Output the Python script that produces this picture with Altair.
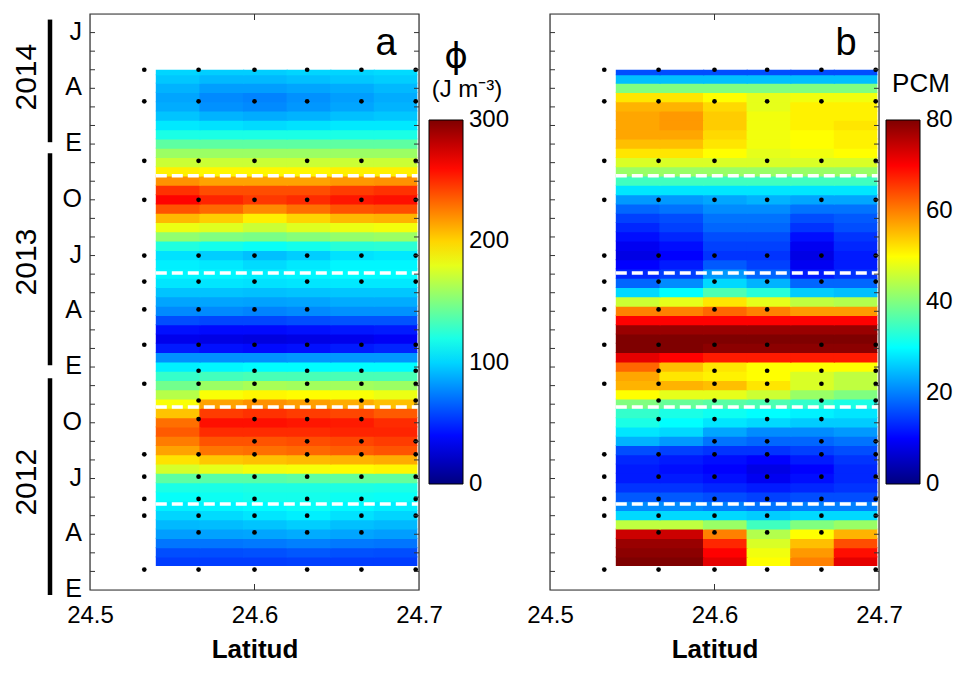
import altair as alt
import pandas as pd

FONT = "Liberation Sans, Arial, Helvetica, sans-serif"

# ---------------- axis / label data ----------------
month_tick_pos = list(range(1, 31))                     # months since Jan-2012
month_label_pos = [0, 3, 6, 9, 12, 15, 18, 21, 24, 27, 30]
month_labels = ["E", "A", "J", "O", "E", "A", "J", "O", "E", "A", "J"]
year_labels = ["2012", "2013", "2014"]
year_center = [5.8, 17.65, 27.6]
year_bar_lo = [-0.27, 12.1, 24.1]
year_bar_hi = [11.4, 23.5, 30.7]
lon_ticks = [24.5, 24.6, 24.7]

# sampling stations (black dots)
dot_lons = [24.533, 24.566, 24.600, 24.632, 24.665, 24.698]
dot_months = [28.0, 26.3, 23.1, 21.0, 18.0, 16.6, 15.1, 13.2, 11.8, 11.1,
              10.2, 9.2, 8.0, 7.3, 6.1, 4.9, 4.0, 3.1, 1.1]
dot_masks = ["111111", "111111", "111111", "111111", "111111", "111111", "111100",
             "111111", "011111", "111111", "011111", "011110", "001111", "111111",
             "111111", "111111", "111111", "011110", "111111"]

# white dashed lines
dash_months = [4.63, 9.85, 17.06, 22.3]

# ---------------- heat map data ----------------
heat_lon_edges = [24.54, 24.5665, 24.593, 24.6195, 24.646, 24.6725, 24.699]
heat_bottom, heat_top = 1.29, 28.0
heat_months = [1.5, 2.0, 2.5, 3.0, 3.5, 4.0, 4.5, 5.0, 5.5, 6.0, 6.5, 7.0, 7.5, 8.0,
               8.5, 9.0, 9.5, 10.0, 10.5, 11.0, 11.5, 12.0, 12.5, 13.0, 13.5, 14.0,
               14.5, 15.0, 15.5, 16.0, 16.5, 17.0, 17.5, 18.0, 18.5, 19.0, 19.5,
               20.0, 20.5, 21.0, 21.5, 22.0, 22.5, 23.0, 23.5, 24.0, 24.5, 25.0,
               25.5, 26.0, 26.5, 27.0, 27.5, 27.9]

phi_rows = [
    [55, 55, 55, 56, 55, 55], [60, 60, 61, 63, 61, 60], [72, 72, 73, 75, 73, 72],
    [84, 85, 86, 88, 86, 84], [92, 93, 95, 98, 94, 92], [100, 102, 105, 108, 104, 100],
    [108, 110, 112, 115, 111, 108], [114, 116, 118, 118, 116, 115], [120, 120, 121, 121, 121, 120],
    [140, 138, 138, 140, 142, 142], [175, 180, 184, 185, 188, 190], [196, 204, 206, 208, 210, 212],
    [215, 228, 230, 232, 235, 238], [226, 238, 238, 240, 242, 245], [236, 250, 250, 250, 252, 252],
    [230, 258, 258, 256, 255, 250], [205, 245, 248, 245, 242, 236], [186, 215, 220, 216, 212, 206],
    [166, 186, 190, 188, 186, 182], [146, 158, 162, 160, 160, 158], [128, 132, 134, 134, 134, 134],
    [108, 110, 112, 112, 112, 112], [80, 80, 80, 82, 82, 82], [45, 42, 40, 42, 45, 48],
    [32, 30, 28, 30, 32, 35], [42, 40, 40, 42, 44, 45], [60, 58, 58, 60, 62, 62],
    [78, 78, 76, 78, 80, 80], [86, 86, 85, 86, 88, 88], [95, 95, 94, 95, 96, 96],
    [105, 105, 104, 105, 106, 106], [110, 110, 108, 110, 112, 112], [108, 106, 102, 106, 110, 110],
    [104, 98, 94, 98, 104, 106], [122, 118, 115, 118, 124, 125], [155, 150, 148, 152, 156, 158],
    [182, 178, 172, 178, 182, 184], [208, 202, 192, 200, 208, 210], [238, 232, 222, 230, 238, 240],
    [262, 252, 246, 250, 256, 258], [248, 240, 240, 240, 245, 248], [220, 215, 215, 215, 218, 220],
    [192, 190, 190, 190, 192, 192], [172, 172, 172, 172, 172, 172], [158, 158, 158, 158, 158, 158],
    [140, 140, 140, 140, 140, 140], [120, 120, 120, 120, 120, 120], [106, 104, 102, 104, 106, 106],
    [95, 90, 88, 90, 94, 96], [88, 80, 78, 82, 86, 90], [86, 78, 76, 80, 84, 88],
    [90, 84, 84, 86, 88, 92], [96, 92, 92, 94, 96, 98], [100, 98, 98, 100, 100, 102],
]

pcm_rows = [
    [80, 80, 72, 50, 60, 72], [79, 79, 70, 49, 58, 69], [78, 78, 67, 47, 55, 64],
    [74, 74, 60, 44, 50, 56], [45, 45, 42, 35, 40, 42], [27, 27, 27, 26, 27, 27],
    [21, 21, 20, 19, 20, 20], [17, 17, 16, 15, 16, 16], [14, 14, 13, 12, 13, 14],
    [12, 12, 11, 9, 11, 13], [12, 11, 10, 8, 10, 13], [13, 12, 11, 10, 12, 14],
    [16, 15, 14, 14, 15, 16], [24, 22, 19, 18, 18, 19], [28, 27, 23, 21, 21, 22],
    [32, 30, 28, 27, 26, 26], [34, 32, 31, 30, 29, 28], [40, 38, 37, 36, 34, 32],
    [50, 48, 48, 46, 42, 40], [56, 56, 55, 52, 47, 45], [57, 52, 51, 50, 47, 45],
    [62, 55, 52, 50, 50, 50], [72, 70, 68, 68, 68, 68], [80, 80, 79, 79, 79, 79],
    [80, 80, 80, 80, 80, 80], [78, 78, 78, 78, 78, 78], [70, 70, 70, 70, 70, 70],
    [60, 60, 62, 60, 58, 58], [46, 48, 52, 48, 45, 44], [27, 30, 36, 33, 26, 25],
    [18, 21, 27, 24, 18, 18], [13, 15, 22, 18, 12, 14], [10, 12, 17, 15, 9, 12],
    [8, 10, 14, 14, 8, 12], [9, 11, 15, 15, 9, 13], [11, 13, 16, 16, 11, 14],
    [13, 15, 18, 18, 14, 16], [15, 16, 19, 19, 16, 17], [18, 19, 21, 21, 19, 19],
    [22, 22, 23, 24, 23, 23], [28, 28, 28, 28, 28, 28], [35, 35, 35, 35, 35, 35],
    [42, 42, 42, 42, 42, 42], [47, 47, 47, 47, 47, 47], [52, 52, 50, 48, 49, 50],
    [55, 55, 52, 49, 50, 51], [57, 57, 53, 49, 50, 51], [57, 58, 54, 49, 51, 52],
    [57, 58, 54, 49, 51, 51], [56, 56, 53, 48, 51, 51], [52, 52, 50, 48, 49, 49],
    [40, 40, 40, 40, 40, 40], [25, 25, 25, 25, 25, 25], [16, 16, 16, 16, 16, 16],
]

JET = ["#00007F", "#0000FF", "#00FFFF", "#FFFF00", "#FF0000", "#7F0000"]
phi_domain = [0, 37.5, 112.5, 187.5, 262.5, 300]
pcm_domain = [0, 10, 30, 50, 70, 80]
phi_ticks = [0, 100, 200, 300]
pcm_ticks = [0, 20, 40, 60, 80]

# ---------------- layout constants ----------------
W, H = 329, 576
X0, X1 = 24.5, 24.7
CB_TOP, CB_LEN, CB_THICK = 106, 364, 34


def heat_frame(rows):
    recs = []
    n = len(heat_months)
    for i, m in enumerate(heat_months):
        lo = heat_bottom if i == 0 else (heat_months[i - 1] + m) / 2
        hi = heat_top if i == n - 1 else (m + heat_months[i + 1]) / 2 + 0.06
        for j in range(6):
            x0 = heat_lon_edges[j]
            x1 = heat_lon_edges[j + 1] + (0.0008 if j < 5 else 0)
            recs.append({"x0": x0, "x1": x1, "y0": lo, "y1": hi, "v": rows[i][j]})
    return pd.DataFrame(recs)


dots_df = pd.DataFrame([
    {"lon": dot_lons[j], "m": m}
    for m, mask in zip(dot_months, dot_masks)
    for j, c in enumerate(mask) if c == "1"
])
dash_df = pd.DataFrame({"m": dash_months, "x0": [heat_lon_edges[0]] * len(dash_months),
                        "x1": [X1] * len(dash_months)})
ticks_df = pd.DataFrame({"m": month_tick_pos})
mlab_df = pd.DataFrame({"m": month_label_pos, "lab": month_labels})
year_df = pd.DataFrame({"yc": year_center, "lab": year_labels, "lo": year_bar_lo, "hi": year_bar_hi})
xtick_df = pd.DataFrame({"lon": [24.6]})
one_df = pd.DataFrame({"k": [0]})

xs = alt.Scale(domain=[X0, X1], nice=False, zero=False)
ys = alt.Scale(domain=[0, 31], nice=False, zero=False)
x_axis = alt.Axis(values=lon_ticks, format=".1f", labelFontSize=24, labelFont=FONT,
                  labelColor="black", tickSize=0, domain=False, grid=False,
                  labelPadding=13, labelFlush=False, title="Latitud", titleFontSize=26,
                  titleFont=FONT, titleFontWeight="bold", titleColor="black", titlePadding=9)


def X(field):
    return alt.X(field, type="quantitative", scale=xs, axis=x_axis, title="Latitud")


def Y(field):
    return alt.Y(field, type="quantitative", scale=ys, axis=None)


def panel(rows, cdomain, cticks, legend_x, letter, extra):
    heat = alt.Chart(heat_frame(rows)).mark_rect(strokeWidth=0).encode(
        x=X("x0"), x2="x1", y=Y("y0"), y2="y1",
        color=alt.Color("v:Q",
                        scale=alt.Scale(domain=cdomain, range=JET, interpolate="rgb"),
                        legend=alt.Legend(title=None, orient="none", legendX=legend_x, legendY=CB_TOP,
                                          direction="vertical", gradientLength=CB_LEN,
                                          gradientThickness=CB_THICK, gradientStrokeColor="black",
                                          gradientStrokeWidth=1, labelFontSize=24, labelFont=FONT,
                                          labelExpr="''", values=cticks, labelOffset=6,
                                          labelOverlap=False, padding=0)),
    )
    # colour-bar tick labels, centred on their value
    vmax = cdomain[-1]
    cb_lab = pd.DataFrame({"lab": [str(v) for v in cticks],
                           "py": [CB_TOP + (1 - v / vmax) * CB_LEN for v in cticks]})
    cb_text = alt.Chart(cb_lab).mark_text(fontSize=24, font=FONT, align="left", baseline="middle",
                                          color="black").encode(
        x=alt.value(legend_x + CB_THICK + 6), y=alt.Y("py:Q", scale=None, axis=None), text="lab:N")
    dashes = alt.Chart(dash_df).mark_rule(color="white", strokeWidth=3.5, strokeDash=[11, 5]).encode(
        x=X("x0"), x2="x1", y=Y("m"))
    dots = alt.Chart(dots_df).mark_circle(size=22, color="black", opacity=1).encode(
        x=X("lon"), y=Y("m"))
    frame = alt.Chart(one_df).mark_rect(filled=False, stroke="#333", strokeWidth=1.2).encode(
        x=alt.value(0), x2=alt.value(W), y=alt.value(0), y2=alt.value(H))
    lt = alt.Chart(ticks_df).mark_rule(color="#333", strokeWidth=1).encode(
        x=alt.value(0), x2=alt.value(5), y=Y("m"))
    rt = alt.Chart(ticks_df).mark_rule(color="#333", strokeWidth=1).encode(
        x=alt.value(W - 5), x2=alt.value(W), y=Y("m"))
    bt = alt.Chart(xtick_df).mark_rule(color="#333", strokeWidth=1).encode(
        x=X("lon"), y=alt.value(H), y2=alt.value(H - 6))
    tt = alt.Chart(xtick_df).mark_rule(color="#333", strokeWidth=1).encode(
        x=X("lon"), y=alt.value(0), y2=alt.value(6))
    let = alt.Chart(pd.DataFrame({"t": [letter]})).mark_text(
        fontSize=38, font=FONT, align="center", baseline="alphabetic", color="black").encode(
        x=alt.value(296), y=alt.value(41), text="t:N")
    layers = [heat, dashes, dots, frame, lt, rt, bt, tt, let, cb_text] + extra
    return alt.layer(*layers).properties(width=W, height=H)


mlabels = alt.Chart(mlab_df).mark_text(fontSize=25, font=FONT, align="right", baseline="middle",
                                       dy=-1, color="black").encode(
    x=alt.value(-8), y=Y("m"), text="lab:N")
ylabels = alt.Chart(year_df).mark_text(fontSize=30, font=FONT, angle=270, align="center",
                                       baseline="middle", color="black").encode(
    x=alt.value(-63), y=Y("yc"), text="lab:N")
ybars = alt.Chart(year_df).mark_rule(color="black", strokeWidth=4.5).encode(
    x=alt.value(-40), y=Y("lo"), y2="hi")
phi_t = alt.Chart(pd.DataFrame({"t": ["ϕ"]})).mark_text(
    fontSize=36, font="DejaVu Sans, Liberation Sans", align="center", baseline="middle",
    color="black").encode(x=alt.value(366), y=alt.value(43), text="t:N")
unit_t = alt.Chart(pd.DataFrame({"t": ["(J m⁻³)"]})).mark_text(
    fontSize=24, font=FONT, align="center", baseline="middle", color="black").encode(
    x=alt.value(377), y=alt.value(76), text="t:N")
pcm_t = alt.Chart(pd.DataFrame({"t": ["PCM"]})).mark_text(
    fontSize=26, font=FONT, align="center", baseline="middle", color="black").encode(
    x=alt.value(371), y=alt.value(70), text="t:N")

pa = panel(phi_rows, phi_domain, phi_ticks, 339, "a", [mlabels, ylabels, ybars, phi_t, unit_t])
pb = panel(pcm_rows, pcm_domain, pcm_ticks, 336, "b", [pcm_t])

chart = alt.hconcat(pa, pb, spacing=131, bounds="flush").resolve_scale(
    color="independent").properties(
    padding={"left": 11, "top": 12, "right": 5, "bottom": 5}
).configure_view(stroke="#333", strokeWidth=1).configure(font=FONT, background="white")

chart.save("out.html", embed_options={"renderer": "svg", "actions": False})
